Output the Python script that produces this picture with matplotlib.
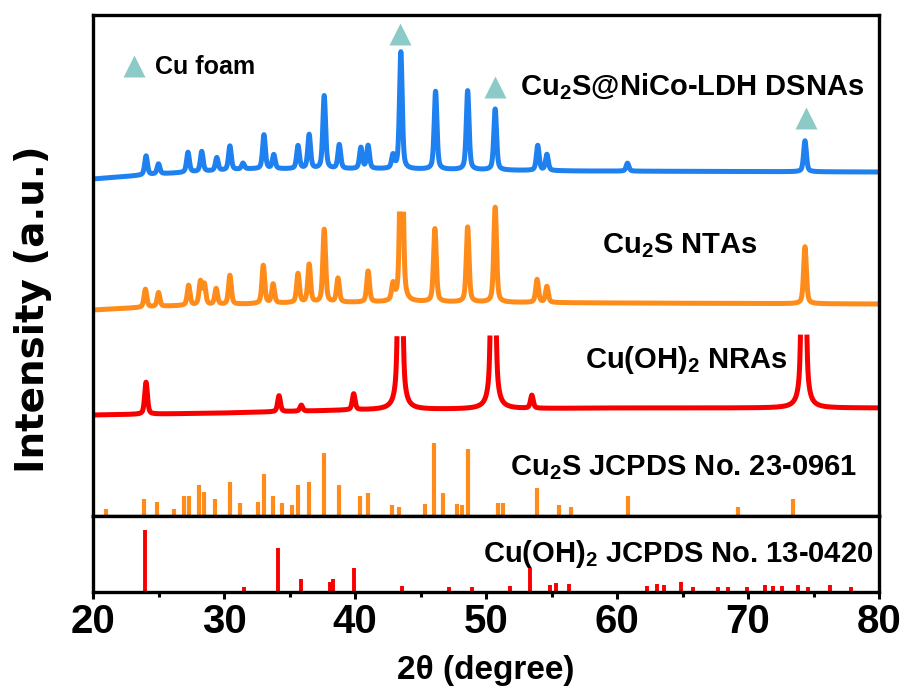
import numpy as np
import matplotlib
matplotlib.use("Agg")
from matplotlib import pyplot as plt

# Setup
#----------------------------------------------------
plt.rcParams["font.family"] = ["Liberation Sans", "DejaVu Sans"]
plt.rcParams["font.weight"] = "bold"
plt.rcParams["mathtext.fontset"] = "custom"
plt.rcParams["mathtext.rm"] = "Liberation Sans:bold"
plt.rcParams["mathtext.it"] = "Liberation Sans:bold"
plt.rcParams["mathtext.bf"] = "Liberation Sans:bold"

BLUE = "#1f80f0"
ORANGE = "#ff8c1a"
RED = "#f80000"
TEAL = "#8ccac7"

# Measured patterns (2theta in degree, intensity in a.u.)
#----------------------------------------------------
blue_base_x = [20, 25, 32, 42, 57, 80]
blue_base_y = [337, 342, 347, 347, 345, 344]
blue_pos = [24.05, 25.0, 27.25, 28.3, 29.45, 30.45, 31.45, 33.05, 33.8, 35.65, 36.5, 37.65,
            38.8, 40.45, 41.0, 42.9, 43.5, 46.15, 48.6, 50.7, 53.95, 54.65, 60.8, 74.35]
blue_amp = [19, 10, 20, 20, 13, 24, 6, 34, 14, 23, 34, 73,
            24, 21, 23, 13, 117, 78, 79, 61, 25, 16, 8, 31]

orange_base_x = [20, 26, 35, 45, 60, 80]
orange_base_y = [206, 210, 213, 214, 213, 212]
orange_pos = [24.0, 25.0, 27.3, 28.2, 28.5, 29.4, 30.45, 33.0, 33.75, 35.65, 36.5, 37.65,
              38.7, 41.0, 42.9, 43.55, 46.1, 48.6, 50.7, 53.9, 54.65, 74.35]
orange_amp = [18, 14, 20, 23, 20, 16, 29, 38, 19, 29, 38, 73,
              24, 31, 16, 250, 73, 75, 95, 23, 16, 57]
orange_cap = 311

red_base_x = [20, 30, 40, 50, 60, 80]
red_base_y = [101, 103, 106, 107, 108, 108]
red_pos = [24.05, 34.2, 35.9, 39.9, 43.45, 50.55, 53.5, 74.25]
red_amp = [32, 16, 6, 16, 540, 540, 13, 540]
red_cap = 179

# Cu foam reflections marked with triangles
cu_pos = [43.45, 50.7, 74.43]
cu_y = [482, 429, 398]

# Cu2S JCPDS No. 23-0961
cu2s_pos = [21.0, 23.9, 24.9, 26.2, 26.95, 27.35, 28.1, 28.5, 29.3, 30.45, 31.2, 32.6,
            33.05, 33.75, 34.4, 35.2, 35.65, 36.5, 37.65, 38.8, 40.4, 41.0, 42.8, 43.35,
            45.35, 46.0, 46.7, 47.8, 48.2, 48.65, 50.9, 51.3, 53.9, 55.6, 56.5, 60.85,
            69.2, 73.45]
cu2s_int = [7, 17, 14, 7, 20, 20, 31, 24, 17, 34, 13, 14,
            42, 20, 13, 11, 31, 34, 63, 31, 20, 23, 11, 9,
            12, 73, 23, 12, 11, 67, 13, 13, 28, 11, 9, 20,
            9, 17]

# Cu(OH)2 JCPDS No. 13-0420
cuoh_pos = [23.95, 31.5, 34.1, 35.9, 38.1, 38.3, 39.9, 43.6, 47.2, 48.9, 51.8, 53.35,
            54.9, 55.35, 56.35, 62.3, 63.05, 63.55, 64.9, 65.8, 67.7, 68.45, 69.9, 71.3,
            71.9, 72.6, 73.8, 74.6, 76.25, 77.85]
cuoh_int = [62, 5, 44, 13, 10, 13, 24, 6, 5, 5, 6, 24,
            7, 9, 8, 6, 8, 7, 10, 5, 5, 5, 5, 7,
            6, 6, 7, 5, 7, 5]


def pattern(x, base_x, base_y, pos, amp, width=0.25, eta=0.5, cap=None):
    # baseline plus pseudo-Voigt peaks; values above cap are left out (clipped peaks)
    y = np.interp(x, base_x, base_y)
    for p, a in zip(pos, amp):
        u = 2 * (x - p) / width
        y = y + a * (eta / (1 + u ** 2) + (1 - eta) * np.exp(-np.log(2) * u ** 2))
    if cap is not None:
        y = np.where(y > cap, np.nan, y)
    return y


# Plot
#----------------------------------------------------
fig = plt.figure(figsize=(9.07, 6.99), dpi=100)
ax = fig.add_axes([0.10254, 0.26180, 0.86659, 0.71674])
ax2 = fig.add_axes([0.10254, 0.15308, 0.86659, 0.10873], sharex=ax)

x = np.arange(20, 80.001, 0.01)
ax.plot(x, pattern(x, blue_base_x, blue_base_y, blue_pos, blue_amp), color=BLUE, lw=3.6)
ax.plot(x, pattern(x, orange_base_x, orange_base_y, orange_pos, orange_amp, cap=orange_cap),
        color=ORANGE, lw=3.6)
ax.plot(x, pattern(x, red_base_x, red_base_y, red_pos, red_amp, cap=red_cap), color=RED, lw=3.6)
ax.vlines(cu2s_pos, 0, cu2s_int, color=ORANGE, lw=3)
ax.plot(cu_pos, cu_y, "^", color=TEAL, ms=16, mec="none")

# legend for Cu foam
ax.plot([23.13], [450], "^", color=TEAL, ms=16, mec="none")
ax.text(24.73, 442, "Cu foam", fontsize=18, fontweight="bold")

lbl = dict(fontsize=21, fontweight="bold", ha="center", va="baseline")
ax.text(65.73, 421, "Cu$_2$S@NiCo-LDH DSNAs", **lbl)
ax.text(64.77, 263, "Cu$_2$S NTAs", **lbl)
ax.text(65.27, 148, "Cu(OH)$_2$ NRAs", **lbl)
ax.text(65.08, 41, "Cu$_2$S JCPDS No. 23-0961", **lbl)

ax2.vlines(cuoh_pos, 0, cuoh_int, color=RED, lw=2.8)
ax2.text(64.66, 30, "Cu(OH)$_2$ JCPDS No. 13-0420", **lbl)

ax.set_xlim(20, 80)
ax.set_ylim(0, 501)
ax2.set_ylim(0, 76)

for a in (ax, ax2):
    for s in a.spines.values():
        s.set_linewidth(2.4)
    a.set_yticks([])
ax.tick_params(axis="x", which="both", bottom=False, labelbottom=False)

ax2.set_xticks(np.arange(20, 81, 10))
ax2.set_xticks(np.arange(25, 80, 10), minor=True)
ax2.tick_params(axis="x", which="major", direction="out", length=5, width=2.2,
                labelsize=29, pad=3)
ax2.tick_params(axis="x", which="minor", direction="out", length=3.5, width=2.2)
for t in ax2.get_xticklabels():
    t.set_fontweight("bold")
ax2.set_xlabel("2θ (degree)", fontsize=24, fontweight="bold", labelpad=10)

fig.text(0.036, 0.558, "Intensity (a.u.)", rotation=90, ha="center", va="center",
         fontsize=28, fontweight="bold", family=["DejaVu Sans"])

fig.savefig("out.png", dpi=100)
